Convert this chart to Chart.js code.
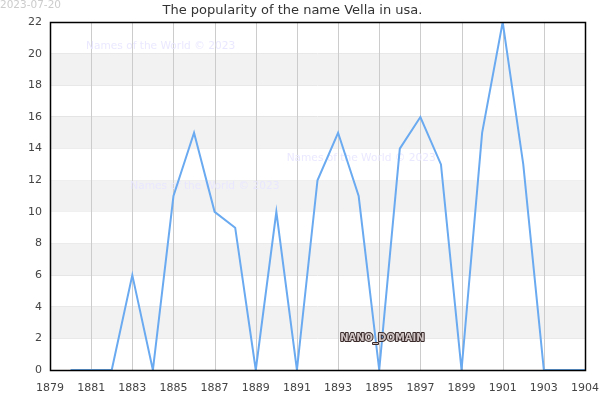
<!DOCTYPE html>
<html>
<head>
<meta charset="utf-8">
<script src="https://cdn.jsdelivr.net/npm/chart.js@4/dist/chart.umd.min.js"></script>
<style>
html,body{margin:0;padding:0;background:#fff;}
#wrap{width:600px;height:400px;position:relative;}
</style>
</head>
<body>
<div id="wrap"><canvas id="c" width="600" height="400"></canvas></div>
<script>
const titleText = "The popularity of the name Vella in usa.";
const dateText = "2023-07-20";
const years = [1880,1881,1882,1883,1884,1885,1886,1887,1888,1889,1890,1891,1892,1893,1894,1895,1896,1897,1898,1899,1900,1901,1902,1903,1904,1905];
const counts = [0,0,0,6,0,11,15,10,9,0,10,0,12,15,11,0,14,16,13,0,15,22,13,0,0,0];
const xTickValues = [1879,1881,1883,1885,1887,1889,1891,1893,1895,1897,1899,1901,1903,1905];
const xTickLabels = ["1879","1881","1883","1885","1887","1889","1891","1893","1895","1897","1899","1901","1903","1904"];
const yTickValues = [0,2,4,6,8,10,12,14,16,18,20,22];
const watermarks = [
  {text:"Names of the World © 2023", x:1880.75, y:20.5},
  {text:"Names of the World © 2023", x:1890.5, y:13.4},
  {text:"Names of the World © 2023", x:1882.9, y:11.6}
];
const domainLabel = {text:"NANO_DOMAIN", x:1893.1, y:2};

const bandsPlugin = {
  id:'bands',
  beforeDatasetsDraw(chart){
    const {ctx, chartArea:a, scales:{y}} = chart;
    ctx.save();
    ctx.fillStyle = '#f2f2f2';
    for(let i=0;i<yTickValues.length-1;i++){
      if(i%2===1){
        const t = y.getPixelForValue(yTickValues[i+1]);
        const b = y.getPixelForValue(yTickValues[i]);
        ctx.fillRect(a.left, t, a.right-a.left, b-t);
      }
    }
    ctx.strokeStyle = '#cccccc';
    ctx.lineWidth = 1;
    const x = chart.scales.x;
    xTickValues.forEach(v=>{
      const px = Math.round(x.getPixelForValue(v))+0.5;
      ctx.beginPath(); ctx.moveTo(px,a.top); ctx.lineTo(px,a.bottom); ctx.stroke();
    });
    ctx.font = '10.6px "DejaVu Sans"';
    ctx.fillStyle = 'rgba(232,230,255,0.9)';
    ctx.textBaseline = 'middle';
    ctx.textAlign = 'left';
    watermarks.forEach(w=>{
      ctx.fillText(w.text, x.getPixelForValue(w.x), y.getPixelForValue(w.y));
    });
    ctx.restore();
  },
  afterDraw(chart){
    const {ctx, chartArea:a, scales:{x,y}} = chart;
    ctx.save();
    ctx.strokeStyle = '#000';
    ctx.lineWidth = 1.5;
    ctx.strokeRect(Math.round(a.left)+0.5, Math.round(a.top)+0.5, Math.round(a.right-a.left), Math.round(a.bottom-a.top));
    ctx.font = 'bold 10px "DejaVu Sans"';
    ctx.textBaseline = 'middle';
    ctx.textAlign = 'left';
    ctx.lineWidth = 2;
    ctx.strokeStyle = '#3a2a2a';
    ctx.lineJoin = 'round';
    const dx = x.getPixelForValue(domainLabel.x), dy = y.getPixelForValue(domainLabel.y);
    ctx.strokeText(domainLabel.text, dx, dy);
    ctx.fillStyle = '#cfc4c4';
    ctx.fillText(domainLabel.text, dx, dy);
    ctx.font = '10.5px "DejaVu Sans"';
    ctx.fillStyle = '#cccccc';
    ctx.textBaseline = 'alphabetic';
    ctx.fillText(dateText, 0, 8);
    ctx.restore();
  }
};

new Chart(document.getElementById('c'), {
  type:'line',
  data:{
    datasets:[{
      data: years.map((yr,i)=>({x:yr, y:counts[i]})),
      borderColor:'#6aaaf0',
      borderWidth:2,
      pointRadius:0,
      tension:0,
      fill:false
    }]
  },
  options:{
    responsive:false,
    animation:false,
    layout:{padding:{left:0,right:15,top:0,bottom:0}},
    plugins:{
      legend:{display:false},
      tooltip:{enabled:false},
      title:{display:true,text:titleText,color:'#333',font:{family:'"DejaVu Sans"',size:13,weight:'normal'},padding:{top:2.5,bottom:4}}
    },
    scales:{
      x:{
        type:'linear', min:1879, max:1905,
        afterBuildTicks(s){ s.ticks = xTickValues.map(v=>({value:v})); },
        afterFit(s){ s.height = 30; s.paddingRight = 0; s.paddingLeft = 0; },
        ticks:{autoSkip:false, maxRotation:0, color:'#444', font:{family:'"DejaVu Sans"',size:11}, padding:4,
          callback(v){ const i = xTickValues.indexOf(v); return i>=0 ? xTickLabels[i] : ''; }},
        grid:{display:false},
        border:{display:false}
      },
      y:{
        min:0, max:22,
        afterBuildTicks(s){ s.ticks = yTickValues.map(v=>({value:v})); },
        afterFit(s){ s.width = 50; },
        ticks:{color:'#444', font:{family:'"DejaVu Sans"',size:11}, padding:8},
        grid:{color:'#e4e4e4', drawTicks:false},
        border:{display:false}
      }
    }
  },
  plugins:[bandsPlugin]
});
</script>
</body>
</html>
